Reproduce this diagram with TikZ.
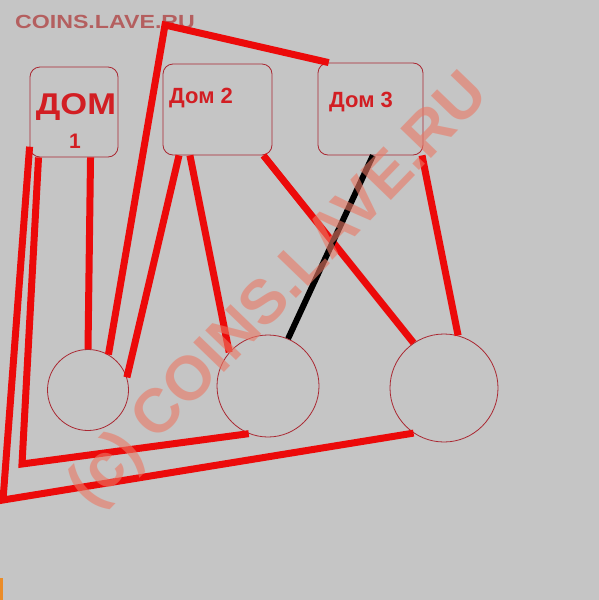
\documentclass[tikz,border=0pt]{standalone}
\usepackage{fontspec}
\setmainfont{Liberation Sans}
\definecolor{bg}{RGB}{197,197,197}
\definecolor{linered}{RGB}{236,10,10}
\definecolor{edgered}{RGB}{170,40,50}
\definecolor{textred}{RGB}{210,30,35}
\definecolor{markred}{RGB}{235,120,100}
\definecolor{toptext}{RGB}{180,95,95}
\definecolor{orangemark}{RGB}{235,140,40}
\tikzset{
  dombox/.style={draw=edgered,line width=0.8pt,rounded corners=10pt,inner sep=0pt},
  krug/.style={draw=edgered,line width=0.8pt,circle,inner sep=0pt},
  wire/.style={draw=linered,line width=7pt},
  blackwire/.style={draw=black,line width=6pt}
}
\begin{document}
\begin{tikzpicture}
        [x=1pt,y=-1pt]
        \fill[bg] (0,0) rectangle (599,600);
        \useasboundingbox (0,0) rectangle (599,600);
        \fill[orangemark] (0,578) rectangle (3,600);

        \node[text=toptext,font=\bfseries\fontsize{19}{19}\selectfont,xscale=1.22,inner sep=0pt] (site) at (105,22) {COINS.LAVE.RU};

        % houses
        \node[dombox,minimum width=88pt,minimum height=90pt] (dom1) at (74,112) {};
        \node[dombox,minimum width=109pt,minimum height=91pt] (dom2) at (217.5,109.5) {};
        \node[dombox,minimum width=105pt,minimum height=92pt] (dom3) at (370.5,109) {};
        \node[text=textred,font=\bfseries\fontsize{30}{30}\selectfont,xscale=1.15] (t1) at (76,107) {ДОМ};
        \node[text=textred,font=\bfseries\fontsize{21}{21}\selectfont] (n1) at (75,141) {1};
        \node[text=textred,font=\bfseries\fontsize{22}{22}\selectfont] (t2) at (201,98) {Дом 2};
        \node[text=textred,font=\bfseries\fontsize{22}{22}\selectfont] (t3) at (361,102) {Дом 3};

        % wells
        \node[krug,minimum size=81pt] (k1) at (88,390) {};
        \node[krug,minimum size=102pt] (k2) at (268,386) {};
        \node[krug,minimum size=108pt] (k3) at (444,388) {};

        \coordinate (peak) at (165,25);
        \coordinate (c1) at (3,500);
        \coordinate (c2) at (22,464);

        \draw[wire] (k1.60) -- (peak) -- (dom3.132);
        \draw[wire] (dom1.290) -- (k1.north);
        \draw[wire] (dom2.230) -- (k1.18);
        \draw[wire] (dom2.239) -- (k2.139);
        \draw[wire] (dom2.315) -- (k3.124);
        \draw[wire] (dom3.318) -- (k3.75);
        \draw[wire] (dom1.218) -- (c1) -- (k3.236);
        \draw[wire] (dom1.232) -- (c2) -- (k2.248);
        \draw[blackwire] (dom3.273) -- (k2.67);

        \node[text=markred,opacity=0.6,rotate=46,font=\bfseries\fontsize{62}{62}\selectfont] (mark) at (280,292) {(c) COINS.LAVE.RU};
      \end{tikzpicture}
\end{document}
